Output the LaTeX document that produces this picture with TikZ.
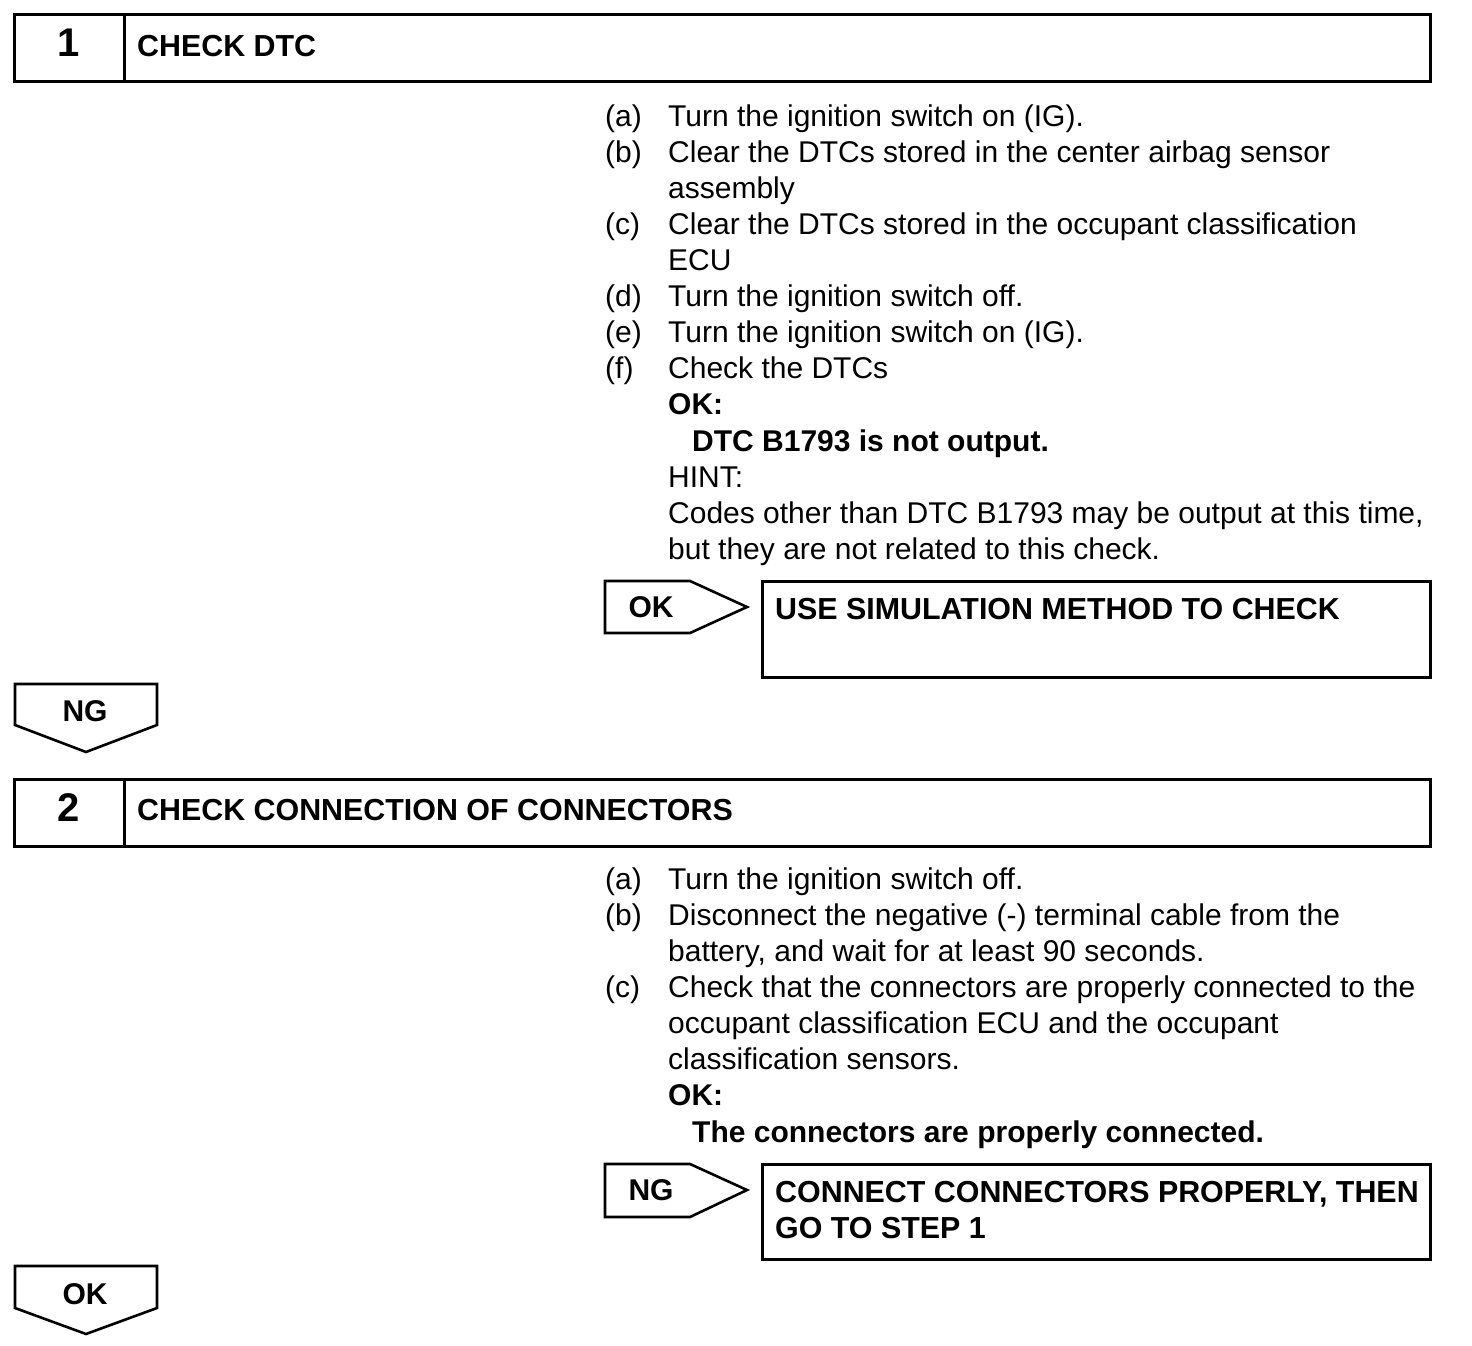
\documentclass[tikz,border=0pt]{standalone}
\usepackage{fontspec}
\setmainfont{Liberation Sans}
\begin{document}
\begin{tikzpicture}[x=1pt,y=-1pt,
  frame/.style={draw=black,line width=3pt,line join=miter},
  tag/.style={draw=black,line width=2.6pt,line join=miter},
  body/.style={anchor=base west,inner sep=0pt,font=\fontsize{30}{36}\selectfont},
  bbody/.style={anchor=base west,inner sep=0pt,font=\fontsize{30}{36}\selectfont\bfseries},
  head/.style={anchor=base west,inner sep=0pt,font=\fontsize{30.4}{36}\selectfont\bfseries},
  num/.style={anchor=base,inner sep=0pt,font=\fontsize{40}{44}\selectfont\bfseries},
  tagtext/.style={anchor=base,inner sep=0pt,font=\fontsize{30}{36}\selectfont\bfseries}]
\useasboundingbox (0,0) rectangle (1472,1346);
% ---------- Step 1 header
\draw[frame] (14,15) rectangle (1430,81);
\draw[frame] (124,15) -- (124,81);
\node[num] (n1) at (69,57) {1};
\node[head] (h1) at (137,57) {CHECK DTC};
% ---------- Step 1 body
\node[body] (a1l) at (605,126) {(a)}; \node[body] (a1) at (668,126) {Turn the ignition switch on (IG).};
\node[body] (b1l) at (605,162) {(b)}; \node[body] (b1) at (668,162) {Clear the DTCs stored in the center airbag sensor};
\node[body] (b1b) at (668,198) {assembly};
\node[body] (c1l) at (605,234) {(c)}; \node[body] (c1) at (668,234) {Clear the DTCs stored in the occupant classification};
\node[body] (c1b) at (668,270) {ECU};
\node[body] (d1l) at (605,306) {(d)}; \node[body] (d1) at (668,306) {Turn the ignition switch off.};
\node[body] (e1l) at (605,342) {(e)}; \node[body] (e1) at (668,342) {Turn the ignition switch on (IG).};
\node[body] (f1l) at (605,378) {(f)}; \node[body] (f1) at (668,378) {Check the DTCs};
\node[bbody] (ok1) at (668,414) {OK:};
\node[bbody] (ok1t) at (692,451) {DTC B1793 is not output.};
\node[body] (hint1) at (668,487) {HINT:};
\node[body] (hint1a) at (668,523) {Codes other than DTC B1793 may be output at this time,};
\node[body] (hint1b) at (668,559) {but they are not related to this check.};
% ---------- OK tag and result
\draw[tag] (605,581) -- (690,581) -- (747,607) -- (690,633) -- (605,633) -- cycle;
\node[tagtext] (okt) at (651,617) {OK};
\draw[frame] (762,581) rectangle (1430,677);
\node[head] (r1) at (775,619) {USE SIMULATION METHOD TO CHECK};
% ---------- NG down tag
\draw[tag] (15,684) -- (157,684) -- (157,725) -- (86,752) -- (15,725) -- cycle;
\node[tagtext] (ngd) at (85,721) {NG};
% ---------- Step 2 header
\draw[frame] (14,779) rectangle (1430,846);
\draw[frame] (124,779) -- (124,846);
\node[num] (n2) at (69,821) {2};
\node[head] (h2) at (137,820) {CHECK CONNECTION OF CONNECTORS};
% ---------- Step 2 body
\node[body] (a2l) at (605,889) {(a)}; \node[body] (a2) at (668,889) {Turn the ignition switch off.};
\node[body] (b2l) at (605,925) {(b)}; \node[body] (b2) at (668,925) {Disconnect the negative (-) terminal cable from the};
\node[body] (b2b) at (668,961) {battery, and wait for at least 90 seconds.};
\node[body] (c2l) at (605,997) {(c)}; \node[body] (c2) at (668,997) {Check that the connectors are properly connected to the};
\node[body] (c2b) at (668,1033) {occupant classification ECU and the occupant};
\node[body] (c2c) at (668,1069) {classification sensors.};
\node[bbody] (ok2) at (668,1105) {OK:};
\node[bbody] (ok2t) at (692,1142) {The connectors are properly connected.};
% ---------- NG tag and result
\draw[tag] (605,1164) -- (690,1164) -- (747,1190) -- (690,1217) -- (605,1217) -- cycle;
\node[tagtext] (ngt) at (651,1200) {NG};
\draw[frame] (762,1164) rectangle (1430,1259);
\node[head] (r2a) at (775,1202) {CONNECT CONNECTORS PROPERLY, THEN};
\node[head] (r2b) at (775,1238) {GO TO STEP 1};
% ---------- OK down tag
\draw[tag] (15,1266) -- (157,1266) -- (157,1308) -- (86,1334) -- (15,1308) -- cycle;
\node[tagtext] (okd) at (85,1304) {OK};
\end{tikzpicture}
\end{document}
